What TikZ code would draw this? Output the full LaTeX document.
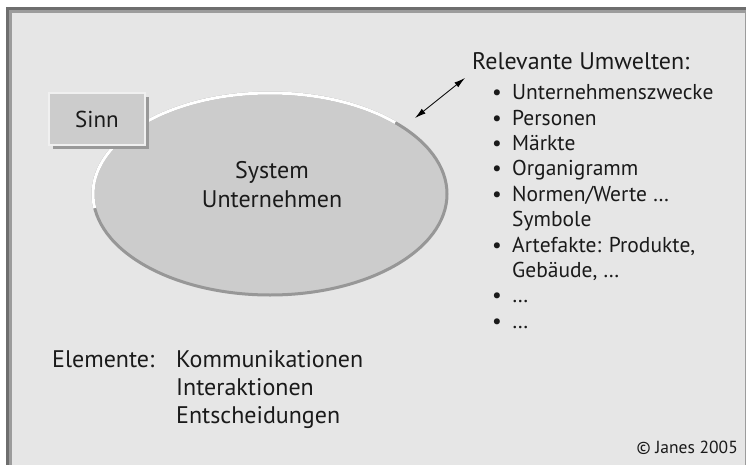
\documentclass[tikz,border=0pt]{standalone}
\usepackage{fontspec}
\setmainfont{PT Sans}
\usetikzlibrary{arrows.meta,shapes.geometric,shadows}
\definecolor{bggray}{HTML}{E6E6E6}
\definecolor{ellgray}{HTML}{CCCCCC}
\definecolor{edgegray}{HTML}{979797}
\definecolor{shadegray}{HTML}{999999}
\definecolor{framedark}{HTML}{6E6E6E}
\definecolor{framemid}{HTML}{9C9C9C}
\definecolor{inkgray}{HTML}{1A1A1A}
\tikzset{ %all sizes in pt, 1pt = 1px of the slide
  >={Latex[length=11pt,width=6pt]},
  {big text/.style} ={text=inkgray, inner sep=0,
                      font=\fontsize{24}{29}\selectfont},
  {list text/.style} ={text=inkgray, inner sep=0,
                       font=\fontsize{21.5}{25}\selectfont},
  {item/.style} ={list text, anchor=base west},
  {bullet/.style} ={list text, anchor=base},
  {element/.style} ={big text, anchor=base west},
  {system/.style} ={ellipse, fill=ellgray, draw=edgegray,
                    line width=3pt, inner sep=0,
                    minimum width=354pt, minimum height=202pt},
  {sinnbox/.style} ={rectangle, fill=ellgray, draw=white!70!ellgray,
                     line width=1.2pt, minimum width=96pt,
                     minimum height=52pt, big text,
                     font=\fontsize{23}{28}\selectfont,
                     drop shadow={shadow xshift=4pt, shadow yshift=-4pt,
                                  fill=shadegray, opacity=1}},
  {highlight/.style} ={draw=white, line width=3pt},
}

\begin{document}
\begin{tikzpicture}[x=1pt,y=1pt]
\useasboundingbox (0,0) rectangle (746,467);
% bevelled slide frame
\fill[framedark] (6,2) rectangle (746,460);
\fill[framemid] (9,2) rectangle (746,457);
\fill[bggray] (12,2) rectangle (745,454);

\node[system] (sys) at (270,273) {};
\draw[highlight] ([shift={(45:177 and 101)}]sys.center)
    arc[start angle=45, end angle=188, x radius=177, y radius=101];
\node[big text, anchor=base] (sys1) at (272,289) {System};
\node[big text, anchor=base] (sys2) at (272,260) {Unternehmen};
\node[sinnbox] (sinn) at (97,348) {Sinn};

% environments
\node[element] (u0) at (472,397) {Relevante Umwelten:};
\node[item] (u1) at (512,367) {Unternehmenszwecke};
\node[item] (u2) at (512,342) {Personen};
\node[item] (u3) at (512,317) {Märkte};
\node[item] (u4) at (512,292) {Organigramm};
\node[item] (u5) at (512,266) {Normen/Werte \dots};
\node[item] (u6) at (512,241) {Symbole};
\node[item] (u7) at (512,215) {Artefakte: Produkte,};
\node[item] (u8) at (512,190) {Gebäude, \dots};
\node[item] (u9) at (512,165) {\dots};
\node[item] (u10) at (512,139) {\dots};
\foreach \n in {u1,u2,u3,u4,u5,u7,u9,u10}
  \node[bullet] at ([xshift=-15pt]\n.base west) {•};

\coordinate (a1) at (415,349);
\coordinate (a2) at (465,389);
\draw[<->, line width=.8pt] (a1) -- (a2);

% elements
\node[element] (el) at (52,100) {Elemente:};
\node[element] (e1) at (176,100) {Kommunikationen};
\node[element] (e2) at (176,72) {Interaktionen};
\node[element] (e3) at (176,44) {Entscheidungen};

\node[anchor=base east, inner sep=0, text=inkgray,
      font=\fontsize{17.5}{21}\selectfont] (copy) at (738,14) {© Janes 2005};
\end{tikzpicture}
\end{document}
